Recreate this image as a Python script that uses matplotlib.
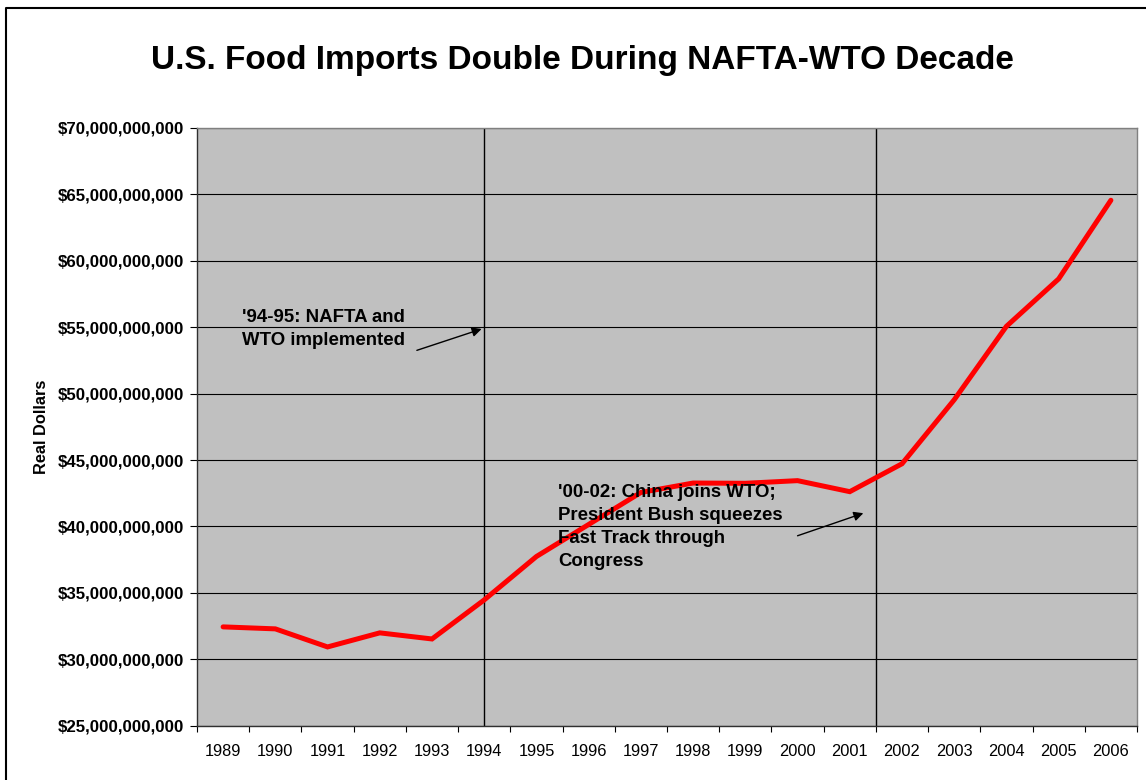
import matplotlib
matplotlib.use("Agg")
import matplotlib.pyplot as plt
from matplotlib.lines import Line2D
from matplotlib.ticker import FuncFormatter, FixedLocator

plt.rcParams['font.family'] = ['Liberation Sans', 'DejaVu Sans']

# data (billions of real dollars)
years = ['1989', '1990', '1991', '1992', '1993', '1994', '1995', '1996', '1997',
         '1998', '1999', '2000', '2001', '2002', '2003', '2004', '2005', '2006']
imports_bn = [32.44, 32.29, 30.93, 31.99, 31.53, 34.47, 37.74, 40.15, 42.56,
              43.27, 43.25, 43.45, 42.62, 44.72, 49.54, 55.07, 58.64, 64.56]
y_ticks_bn = [25, 30, 35, 40, 45, 50, 55, 60, 65, 70]

# event markers: NAFTA/WTO at the 1994 point, China/WTO between 2001 and 2002
nafta_x = 5
china_x = 12.5

W, H = 1146, 780
fig = plt.figure(figsize=(W / 100, H / 100), dpi=100)
ax = fig.add_axes([197 / W, 1 - 725.7 / H, 940 / W, (725.7 - 128) / H])

xs = list(range(len(years)))
ax.set_facecolor('#C0C0C0')
ax.set_xlim(-0.5, len(years) - 0.5)
ax.set_ylim(y_ticks_bn[0], y_ticks_bn[-1])

# gridlines
ax.set_yticks(y_ticks_bn)
ax.yaxis.grid(True, color='black', linewidth=0.8)
ax.set_axisbelow(True)

ax.axvline(nafta_x, color='black', linewidth=1.0, zorder=2)
ax.axvline(china_x, color='black', linewidth=1.0, zorder=2)

ax.plot(xs, imports_bn, color='#FF0000', linewidth=3.6,
        solid_capstyle='round', solid_joinstyle='miter', zorder=3)

# y axis formatting
ax.yaxis.set_major_formatter(FuncFormatter(lambda v, p: '${:,.0f}'.format(v * 1e9)))
ax.tick_params(axis='y', direction='out', length=5, width=0.8, pad=4,
               labelsize=12.2, colors='black')
for lab in ax.get_yticklabels():
    lab.set_fontweight('bold')

# x axis: labels at centers, ticks between categories
ax.set_xticks(xs)
ax.set_xticklabels(years)
ax.tick_params(axis='x', which='major', length=0, pad=13, labelsize=11.8)
ax.xaxis.set_minor_locator(FixedLocator([i - 0.5 for i in range(len(years) + 1)]))
ax.tick_params(axis='x', which='minor', direction='out', length=4, width=0.8)

for side in ['top', 'right']:
    ax.spines[side].set_color('#808080')
    ax.spines[side].set_linewidth(1.0)
for side in ['left', 'bottom']:
    ax.spines[side].set_color('#303030')
    ax.spines[side].set_linewidth(1.0)

ax.set_ylabel('Real Dollars', fontsize=11.8, fontweight='bold')
ax.yaxis.set_label_coords(-0.157, 0.5)

# annotations
ax.annotate("'94-95: NAFTA and\nWTO implemented",
            xy=(4.95, 54.87), xytext=(0.36, 54.87),
            fontsize=13.4, fontweight='bold', ha='left', va='center',
            linespacing=1.45, zorder=4)
ax.annotate("", xy=(4.95, 54.87), xytext=(3.71, 53.26),
            arrowprops=dict(arrowstyle='-|>', color='black', lw=1.0,
                            mutation_scale=14, shrinkA=0, shrinkB=0), zorder=4)

ax.annotate("'00-02: China joins WTO;\nPresident Bush squeezes\nFast Track through\nCongress",
            xy=(12.26, 41.0), xytext=(6.41, 39.95),
            fontsize=13.4, fontweight='bold', ha='left', va='center',
            linespacing=1.45, zorder=4)
ax.annotate("", xy=(12.26, 41.0), xytext=(11.0, 39.30),
            arrowprops=dict(arrowstyle='-|>', color='black', lw=1.0,
                            mutation_scale=14, shrinkA=0, shrinkB=0), zorder=4)

fig.text(582 / W, 1 - 60 / H, 'U.S. Food Imports Double During NAFTA-WTO Decade',
         fontsize=24, fontweight='bold', ha='center', va='center')

# chart border (left and top edges visible)
fig.add_artist(Line2D([5.5 / W, 5.5 / W, 1.0], [0.0, 1 - 8 / H, 1 - 8 / H],
                      transform=fig.transFigure, color='black', linewidth=1.5))

fig.savefig('out.png', dpi=100)
